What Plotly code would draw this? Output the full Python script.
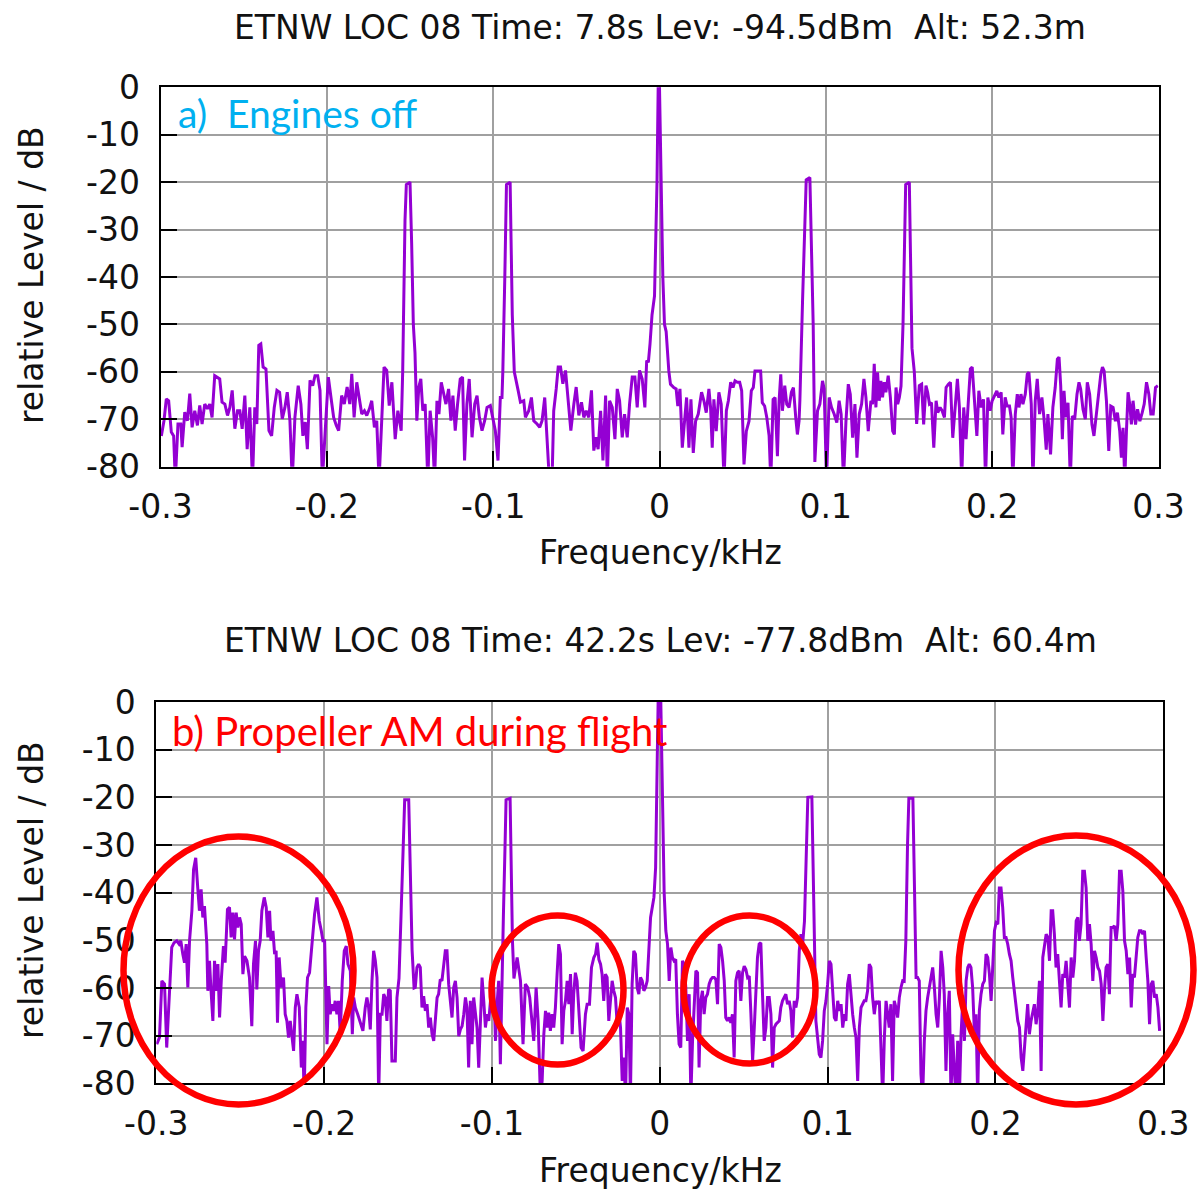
import plotly.graph_objects as go

# ---------------- data ----------------
# Panel a) engines off : frequency in Hz, relative level in dB
top_freq_hz = [
    -299.5, -297.9, -296.5, -295.1, -293.5, -292.1, -291.1, -289.5, -287.8, -287.0,
    -285.4, -283.8, -282.4, -281.0, -279.4, -277.8, -276.4, -275.0, -273.4, -271.8,
    -270.4, -269.0, -267.4, -265.8, -264.4, -263.0, -261.3, -259.7, -258.3, -256.9,
    -255.3, -253.7, -252.3, -250.9, -249.3, -247.9, -246.3, -244.7, -243.3, -242.1,
    -240.9, -239.7, -238.3, -236.6, -234.8, -233.2, -231.6, -230.0, -228.4, -226.8,
    -225.2, -223.8, -222.2, -220.8, -219.2, -217.2, -215.6, -214.4, -213.0, -211.7,
    -210.1, -208.5, -207.1, -205.5, -204.1, -202.7, -201.1, -199.1, -197.5, -195.9,
    -194.3, -192.9, -191.1, -189.5, -187.8, -186.2, -185.0, -183.6, -182.0, -180.4,
    -179.0, -177.4, -176.0, -174.4, -173.0, -171.4, -170.0, -168.6, -167.0, -165.6,
    -164.0, -162.5, -160.9, -158.9, -157.3, -155.3, -154.4, -153.0, -152.2, -150.0,
    -149.0, -148.0, -147.0, -145.9, -144.7, -143.5, -142.3, -140.9, -139.3, -137.9,
    -136.4, -135.2, -133.8, -132.6, -131.2, -129.8, -128.4, -126.8, -125.4, -124.2,
    -122.8, -121.4, -119.8, -118.4, -117.2, -115.8, -114.4, -112.7, -111.1, -109.7,
    -108.3, -106.7, -105.1, -103.7, -101.7, -100.3, -98.7, -97.1, -95.7, -94.7,
    -94.2, -93.0, -92.0, -89.8, -89.0, -88.5, -87.3, -86.6, -85.0, -83.6,
    -81.6, -80.6, -78.6, -77.0, -75.6, -73.6, -72.0, -70.6, -69.0, -67.6,
    -66.2, -64.6, -63.6, -62.1, -60.9, -59.5, -58.1, -56.5, -54.9, -53.3,
    -51.5, -50.1, -48.5, -46.9, -45.5, -44.1, -42.5, -40.9, -39.5, -38.1,
    -36.9, -35.4, -34.0, -32.4, -31.4, -30.0, -28.4, -26.8, -25.4, -24.0,
    -22.4, -21.0, -19.4, -18.0, -16.4, -14.8, -13.4, -12.0, -10.4, -8.8,
    -7.7, -6.7, -5.7, -4.5, -3.0, -1.5, -0.8, 0.0, 1.0, 2.0,
    3.0, 4.0, 5.6, 6.6, 8.6, 10.0, 11.0, 12.3, 13.7, 15.1,
    16.3, 17.7, 18.9, 20.3, 21.7, 23.3, 25.3, 26.7, 28.1, 29.7,
    30.7, 31.7, 32.7, 34.1, 35.7, 37.1, 38.8, 40.2, 41.4, 42.8,
    44.2, 45.4, 46.8, 48.2, 49.4, 50.8, 52.2, 53.8, 55.2, 56.4,
    57.4, 58.8, 60.8, 61.8, 63.2, 64.5, 65.9, 66.9, 68.3, 69.5,
    70.9, 71.9, 72.9, 73.9, 75.3, 76.5, 77.9, 79.3, 80.5, 81.9,
    82.9, 83.9, 84.4, 86.0, 87.2, 88.2, 90.4, 91.4, 92.4, 93.4,
    95.0, 96.4, 98.0, 99.0, 100.4, 102.0, 103.4, 105.0, 106.6, 108.0,
    109.2, 110.6, 112.1, 113.5, 114.7, 116.1, 117.5, 118.7, 120.1, 121.5,
    122.9, 124.1, 125.5, 127.1, 128.1, 129.1, 130.1, 131.1, 132.1, 133.1,
    134.1, 135.1, 136.1, 137.5, 138.8, 140.2, 141.2, 142.2, 143.2, 144.2,
    145.2, 146.4, 147.4, 148.0, 150.2, 151.0, 151.8, 153.2, 154.6, 156.2,
    157.6, 158.8, 160.2, 161.2, 162.3, 163.5, 164.9, 166.3, 167.3, 168.7,
    169.9, 171.3, 172.3, 173.7, 174.9, 176.3, 177.7, 179.1, 180.3, 181.7,
    182.9, 184.3, 185.7, 186.9, 188.0, 189.4, 190.8, 192.0, 193.4, 194.8,
    196.0, 197.4, 198.8, 200.0, 201.4, 202.8, 204.0, 205.4, 206.4, 207.8,
    209.0, 210.4, 211.4, 212.4, 213.9, 215.1, 216.1, 217.3, 218.5, 219.9,
    221.1, 222.1, 223.5, 224.5, 225.9, 227.1, 228.5, 229.9, 231.1, 232.5,
    233.5, 235.1, 236.5, 237.9, 239.2, 240.2, 241.2, 242.2, 243.2, 244.2,
    245.6, 247.0, 248.2, 249.6, 251.0, 252.2, 253.2, 254.6, 256.0, 257.2,
    258.6, 260.0, 261.2, 262.6, 264.0, 265.3, 266.3, 267.3, 268.7, 270.1,
    271.3, 272.7, 274.1, 275.3, 276.7, 277.7, 278.7, 279.7, 280.7, 281.7,
    282.7, 283.7, 284.7, 286.2, 287.4, 288.8, 290.2, 291.4, 292.8, 294.2,
    295.4, 296.8, 298.2, 299.6,
]
top_level_db = [
    -73.5, -70.3, -65.7, -66.1, -72.7, -73.5, -83, -71.0, -71.0, -75.9,
    -68.5, -70.3, -64.6, -71.7, -68.2, -71.3, -67.1, -71.0, -66.8, -67.8,
    -66.8, -69.6, -60.8, -61.1, -61.5, -66.4, -66.8, -69.2, -67.5, -63.9,
    -72.0, -68.2, -68.2, -72.0, -65.0, -76.3, -67.5, -83, -67.5, -71.0,
    -54.4, -54.1, -59.0, -59.4, -72.4, -73.5, -67.5, -63.9, -64.3, -69.9,
    -67.5, -64.3, -70.3, -83, -69.6, -62.9, -66.8, -73.5, -70.6, -76.3,
    -61.8, -62.9, -60.8, -60.8, -63.9, -83, -72.4, -61.1, -65.4, -69.6,
    -71.3, -72.4, -65.0, -66.8, -63.2, -66.8, -60.4, -69.6, -62.2, -65.4,
    -68.9, -68.2, -69.2, -67.8, -66.1, -71.7, -70.3, -83, -69.6, -59.0,
    -59.7, -67.1, -62.2, -74.2, -68.2, -72.4, -60.0, -28.0, -20.5, -20.0,
    -33.0, -50.0, -56.0, -70.3, -63.2, -61.5, -68.2, -66.8, -83, -68.2,
    -73.8, -83, -66.1, -68.9, -62.2, -64.3, -66.8, -63.6, -70.3, -65.0,
    -72.4, -66.8, -61.5, -61.1, -78.7, -66.8, -61.5, -73.8, -66.8, -65.0,
    -69.6, -72.4, -70.3, -67.5, -67.1, -69.6, -72.4, -78.7, -65.4, -65.4,
    -60.0, -40.0, -20.5, -20.0, -35.0, -48.0, -60.0, -61.0, -63.9, -66.4,
    -66.1, -69.6, -68.2, -65.4, -70.3, -71.0, -71.7, -70.3, -65.4, -74.2,
    -83, -83, -68.2, -63.6, -59.0, -59.0, -62.5, -59.7, -66.8, -72.4,
    -66.8, -63.2, -69.2, -66.4, -69.6, -68.2, -69.6, -63.9, -76.6, -73.8,
    -76.3, -68.2, -78.7, -65.0, -83, -66.1, -67.5, -74.2, -63.6, -66.1,
    -73.8, -68.9, -73.8, -66.8, -61.1, -61.1, -67.5, -59.7, -61.5, -67.5,
    -57.6, -58.0, -54.1, -48.0, -44.0, -20.0, 0.0, 0.0, -20.0, -40.0,
    -50.0, -51.5, -59.8, -62.6, -63.3, -63.6, -67.2, -63.6, -76.0, -70.4,
    -65.4, -76.0, -65.8, -77.1, -70.4, -68.9, -64.3, -66.1, -68.6, -63.6,
    -67.5, -76.0, -65.8, -72.5, -64.3, -66.8, -83, -68.2, -66.1, -62.2,
    -63.3, -61.9, -62.2, -62.2, -64.0, -79.5, -72.5, -70.4, -64.0, -63.3,
    -59.8, -59.8, -59.8, -66.5, -67.2, -69.6, -73.5, -83, -65.8, -65.4,
    -77.8, -66.1, -60.5, -68.2, -62.9, -66.8, -67.5, -64.3, -63.3, -69.6,
    -73.2, -70.4, -66.0, -45.0, -30.0, -19.5, -19.0, -35.0, -50.0, -79.0,
    -68.2, -66.8, -61.9, -63.6, -83, -65.4, -67.5, -68.9, -70.7, -66.1,
    -68.9, -83, -70.4, -62.6, -64.7, -73.9, -66.8, -78.1, -68.9, -66.8,
    -61.5, -65.4, -72.5, -66.1, -66.8, -58.3, -67.5, -60.1, -66.1, -61.9,
    -65.4, -62.2, -64.3, -60.8, -65.4, -72.5, -73.2, -63.3, -66.8, -65.4,
    -63.0, -50.0, -30.0, -20.5, -20.0, -40.0, -55.0, -60.0, -71.0, -62.9,
    -62.6, -71.1, -62.9, -64.3, -66.8, -66.5, -76.0, -66.1, -68.6, -67.5,
    -68.2, -69.6, -63.3, -62.6, -62.2, -73.9, -67.5, -61.5, -67.5, -83,
    -67.5, -74.2, -66.1, -59.4, -59.0, -66.8, -73.5, -64.0, -67.5, -65.8,
    -83, -65.4, -68.2, -66.1, -65.1, -64.0, -65.4, -64.3, -73.2, -65.4,
    -67.2, -67.2, -69.6, -83, -68.9, -64.7, -67.5, -64.7, -66.8, -64.7,
    -60.5, -60.1, -66.8, -83, -66.1, -61.5, -68.9, -65.4, -69.6, -76.4,
    -68.9, -77.4, -67.5, -63.3, -57.3, -56.9, -62.9, -74.2, -64.0, -69.6,
    -66.5, -83, -69.3, -70.0, -64.7, -62.2, -63.6, -67.9, -70.0, -62.2,
    -64.7, -71.1, -73.5, -68.9, -65.1, -60.5, -59.0, -59.8, -66.1, -76.7,
    -67.2, -67.5, -70.4, -68.6, -72.5, -78.1, -71.8, -83, -72.8, -64.3,
    -66.8, -71.1, -66.1, -71.1, -67.9, -70.4, -68.6, -66.8, -62.2, -64.7,
    -68.9, -68.9, -63.3, -62.9,
]

# Panel b) propeller AM during flight
bot_freq_hz = [
    -299.7, -298.1, -296.7, -295.1, -293.8, -292.2, -290.8, -289.4, -287.8, -286.4,
    -285.4, -284.2, -283.2, -282.2, -281.2, -280.2, -278.8, -277.8, -276.5, -275.3,
    -274.3, -273.3, -272.3, -271.3, -269.9, -269.3, -268.3, -267.5, -266.3, -265.3,
    -264.3, -263.3, -262.3, -261.3, -260.0, -259.0, -257.6, -256.4, -255.4, -254.4,
    -253.4, -252.4, -251.4, -250.4, -249.4, -248.4, -247.4, -246.0, -244.5, -243.1,
    -242.1, -240.9, -240.1, -239.1, -238.1, -237.1, -235.7, -234.5, -233.5, -232.5,
    -231.7, -230.5, -229.5, -228.6, -227.8, -226.8, -225.6, -224.2, -223.2, -222.2,
    -221.2, -220.2, -219.2, -218.2, -217.2, -216.2, -214.8, -213.6, -212.7, -211.9,
    -210.9, -209.9, -208.7, -207.3, -205.7, -204.3, -202.9, -201.7, -200.7, -199.7,
    -198.3, -197.3, -196.4, -195.4, -194.4, -193.4, -192.4, -191.4, -190.4, -189.2,
    -188.0, -186.8, -185.8, -184.4, -183.2, -182.4, -181.4, -180.0, -178.5, -176.9,
    -175.5, -174.5, -173.5, -172.5, -171.5, -170.5, -169.5, -168.5, -167.5, -166.5,
    -165.5, -164.5, -163.6, -162.6, -161.6, -160.6, -159.6, -158.6, -157.6, -156.6,
    -155.4, -154.2, -152.6, -152.0, -149.6, -148.8, -147.6, -146.4, -145.7, -144.7,
    -143.7, -142.7, -141.7, -140.7, -139.7, -138.7, -137.7, -136.7, -135.7, -134.7,
    -133.7, -132.7, -131.8, -130.8, -129.8, -128.8, -127.8, -126.8, -125.8, -124.8,
    -123.8, -122.8, -121.8, -120.8, -119.8, -118.8, -117.8, -116.8, -115.8, -114.9,
    -113.9, -112.9, -111.9, -110.9, -109.9, -108.9, -107.9, -106.9, -105.9, -104.9,
    -103.9, -102.9, -101.9, -100.9, -99.9, -98.9, -97.9, -96.9, -96.0, -95.0,
    -94.2, -93.2, -92.2, -91.6, -89.2, -88.6, -87.8, -86.9, -85.0, -83.0,
    -81.5, -80.1, -78.7, -77.5, -76.1, -75.1, -73.7, -72.5, -71.1, -70.1,
    -69.1, -68.1, -67.2, -66.2, -65.2, -64.2, -63.2, -62.2, -61.2, -60.2,
    -59.2, -58.2, -57.2, -56.2, -55.2, -54.2, -53.2, -52.2, -51.3, -50.3,
    -49.3, -48.3, -46.9, -45.7, -44.3, -43.3, -41.9, -40.7, -39.3, -38.3,
    -37.3, -36.3, -35.3, -34.4, -33.4, -32.4, -31.4, -30.4, -29.4, -28.4,
    -27.4, -26.4, -25.4, -24.4, -23.4, -22.4, -21.4, -20.4, -19.4, -18.4,
    -17.5, -16.5, -15.5, -14.5, -13.5, -12.5, -11.5, -10.5, -9.5, -8.5,
    -7.5, -6.5, -5.5, -3.5, -2.5, -1.0, 0.6, 1.6, 2.6, 3.6,
    4.6, 5.6, 6.6, 7.5, 8.5, 9.5, 10.5, 11.5, 12.5, 13.5,
    14.5, 15.5, 16.5, 17.5, 18.5, 19.5, 20.5, 21.5, 22.5, 23.4,
    24.4, 25.4, 26.4, 27.4, 28.4, 29.4, 30.4, 31.4, 32.4, 33.4,
    34.4, 35.4, 36.4, 37.4, 38.4, 39.3, 40.3, 41.3, 42.3, 43.3,
    44.3, 45.3, 46.3, 47.3, 48.3, 49.3, 50.3, 51.3, 52.3, 53.3,
    54.3, 55.3, 56.3, 57.2, 58.2, 59.2, 60.2, 61.2, 62.2, 63.2,
    64.2, 65.2, 66.2, 67.2, 68.2, 69.2, 70.2, 71.2, 72.1, 73.1,
    74.1, 75.1, 76.1, 77.1, 78.1, 79.1, 80.1, 81.1, 82.1, 83.1,
    84.1, 85.1, 86.2, 87.2, 88.2, 90.6, 91.4, 92.2, 93.0, 94.0,
    95.0, 96.0, 97.0, 98.0, 99.0, 100.0, 101.0, 102.0, 103.0, 104.0,
    105.0, 106.0, 107.0, 108.0, 109.0, 110.0, 110.9, 111.9, 112.9, 113.9,
    114.9, 115.9, 116.9, 117.9, 118.9, 119.9, 120.9, 121.8, 122.8, 123.8,
    124.8, 125.8, 126.8, 127.8, 128.8, 129.8, 130.8, 131.8, 132.8, 133.8,
    134.8, 135.8, 136.7, 137.7, 138.7, 139.7, 140.7, 141.7, 142.7, 143.7,
    144.7, 145.6, 146.6, 147.6, 148.4, 150.8, 151.4, 152.0, 152.7, 153.6,
    154.6, 155.6, 156.6, 157.6, 158.6, 159.6, 160.6, 161.6, 162.6, 163.6,
    164.6, 165.6, 166.6, 167.6, 168.6, 169.5, 170.5, 171.5, 172.5, 173.5,
    174.5, 175.5, 176.5, 177.5, 178.5, 179.5, 180.5, 181.5, 182.5, 183.5,
    184.4, 185.4, 186.4, 187.4, 188.4, 189.4, 190.4, 191.4, 192.4, 193.4,
    194.4, 195.4, 196.4, 197.4, 198.4, 199.4, 200.4, 201.4, 202.3, 203.3,
    204.3, 205.3, 206.3, 207.3, 208.3, 209.3, 210.3, 211.3, 212.3, 213.3,
    214.3, 215.3, 216.3, 217.3, 218.3, 219.2, 220.2, 221.2, 222.2, 223.2,
    224.2, 225.2, 226.2, 227.2, 228.2, 229.2, 230.2, 231.2, 232.2, 233.2,
    234.1, 235.1, 236.1, 237.1, 238.1, 239.1, 240.1, 241.1, 242.1, 243.1,
    244.1, 245.1, 246.1, 247.1, 248.1, 249.1, 250.0, 251.0, 252.0, 253.0,
    254.0, 255.0, 256.0, 257.0, 258.0, 259.0, 260.0, 261.0, 262.0, 263.0,
    264.0, 264.9, 265.9, 266.9, 267.9, 268.9, 269.9, 270.9, 271.9, 272.9,
    273.9, 274.9, 275.9, 276.9, 277.9, 278.9, 279.9, 280.9, 281.8, 282.8,
    283.8, 284.8, 285.8, 286.8, 287.8, 288.8, 289.8, 290.8, 291.8, 292.8,
    293.8, 294.8, 295.8, 296.8, 297.8,
]
bot_level_db = [
    -71.8, -70.4, -58.5, -59.2, -72.5, -59.9, -51.5, -50.5, -50.1, -50.8,
    -50.1, -52.9, -54.7, -50.8, -59.9, -50.1, -43.8, -35.1, -32.7, -39.0,
    -43.8, -39.3, -45.2, -42.8, -50.8, -60.6, -54.3, -59.9, -66.9, -54.3,
    -60.6, -55.0, -66.2, -58.5, -51.2, -54.7, -43.5, -43.1, -49.4, -44.2,
    -49.8, -44.2, -47.3, -45.2, -46.6, -57.1, -53.3, -54.3, -57.8, -68.0,
    -55.0, -50.1, -60.3, -52.2, -50.1, -43.8, -41.0, -43.1, -49.4, -43.8,
    -50.1, -48.0, -52.9, -52.2, -67.3, -53.6, -59.9, -57.8, -65.5, -66.9,
    -70.4, -66.9, -70.4, -73.2, -64.1, -61.3, -64.1, -76.7, -71.1, -83,
    -64.1, -57.8, -56.8, -51.5, -44.5, -41.0, -45.9, -48.0, -50.1, -50.1,
    -71.8, -59.6, -65.5, -63.4, -64.8, -62.7, -65.5, -62.7, -69.7, -58.5,
    -52.2, -51.2, -55.0, -56.4, -69.7, -62.0, -64.1, -65.5, -67.3, -69.0,
    -64.1, -62.0, -64.1, -68.7, -58.5, -52.2, -54.3, -57.8, -83, -65.5,
    -65.5, -61.3, -62.0, -66.9, -60.3, -60.6, -75.3, -75.3, -75.3, -62.0,
    -58.0, -45.0, -25.0, -20.5, -20.5, -35.0, -52.0, -60.0, -59.9, -55.7,
    -55.0, -55.7, -64.1, -61.7, -64.8, -63.4, -68.3, -66.2, -69.7, -71.1,
    -66.9, -62.0, -61.3, -58.2, -58.5, -55.7, -52.2, -52.2, -59.2, -62.7,
    -66.2, -59.9, -58.5, -62.0, -70.1, -68.7, -68.0, -65.5, -62.0, -64.1,
    -76.7, -62.7, -71.8, -62.0, -64.8, -68.3, -76.7, -65.5, -57.8, -62.7,
    -68.3, -65.5, -66.9, -62.7, -64.1, -59.9, -71.1, -63.1, -58.5, -76.0,
    -58.6, -45.0, -30.0, -20.5, -20.2, -35.0, -50.0, -58.0, -53.6, -58.5,
    -71.8, -59.2, -59.9, -62.0, -67.6, -71.1, -59.9, -66.9, -83, -79.5,
    -69.7, -64.8, -68.3, -65.2, -69.0, -65.5, -68.3, -64.1, -57.1, -50.8,
    -52.9, -71.8, -64.8, -62.7, -58.5, -63.4, -57.1, -69.7, -61.3, -56.8,
    -58.5, -64.1, -72.5, -73.2, -65.5, -63.4, -63.4, -55.7, -53.6, -52.9,
    -50.5, -54.0, -55.0, -57.1, -62.7, -57.1, -57.8, -66.9, -62.0, -58.5,
    -60.6, -62.0, -67.6, -64.8, -68.3, -79.5, -74.6, -83, -64.1, -65.5,
    -83, -59.2, -52.2, -52.9, -59.9, -61.3, -57.8, -58.5, -60.6, -59.9,
    -58.5, -50.1, -45.2, -41.0, -34.8, 0.0, 0.0, -20.0, -40.0, -48.0,
    -50.8, -58.5, -51.5, -53.6, -54.3, -54.0, -65.5, -71.8, -72.5, -54.3,
    -55.0, -59.9, -71.1, -61.3, -83, -71.1, -64.1, -56.4, -56.8, -76.7,
    -62.7, -60.6, -65.5, -62.0, -61.3, -59.2, -58.2, -57.8, -57.8, -58.2,
    -63.4, -50.8, -51.5, -54.3, -58.5, -66.2, -66.9, -66.2, -67.3, -65.5,
    -74.6, -58.5, -56.8, -56.4, -62.7, -56.8, -55.4, -56.1, -57.8, -57.5,
    -65.5, -75.3, -68.3, -62.0, -53.6, -50.8, -50.5, -61.3, -71.1, -68.3,
    -62.0, -62.0, -65.5, -76.7, -68.3, -67.6, -67.3, -66.9, -64.1, -62.7,
    -62.0, -61.3, -63.4, -62.7, -64.8, -70.4, -62.7, -64.1, -62.0, -52.2,
    -48.7, -50.8, -46.0, -30.0, -20.0, -19.9, -35.0, -50.0, -66.9, -70.4,
    -73.9, -74.6, -71.1, -64.8, -62.7, -59.2, -54.3, -55.0, -59.9, -66.2,
    -66.9, -62.7, -64.8, -63.4, -68.3, -65.5, -66.9, -59.2, -57.1, -62.0,
    -65.5, -68.3, -70.4, -79.5, -68.3, -64.1, -63.4, -62.7, -62.7, -60.6,
    -55.0, -55.7, -62.0, -65.5, -62.7, -63.4, -62.7, -72.5, -83, -70.4,
    -62.7, -65.5, -68.3, -63.4, -79.5, -62.7, -64.1, -66.2, -62.0, -59.9,
    -58.5, -58.6, -50.0, -30.0, -20.2, -20.2, -35.0, -50.0, -57.8, -57.8,
    -58.5, -78.1, -83, -71.1, -64.8, -62.0, -59.9, -57.1, -55.7, -59.9,
    -65.5, -68.3, -62.0, -52.2, -55.7, -61.3, -77.4, -65.5, -60.6, -83,
    -69.7, -77.4, -83, -71.1, -83, -69.7, -62.7, -71.1, -58.5, -55.7,
    -55.0, -55.7, -59.9, -69.0, -65.5, -83, -64.8, -61.3, -59.2, -58.5,
    -52.9, -53.6, -57.1, -62.7, -55.7, -48.0, -46.3, -46.6, -39.0, -39.0,
    -43.1, -49.4, -49.4, -50.8, -52.9, -54.3, -57.8, -60.6, -63.4, -66.9,
    -68.3, -74.6, -77.4, -71.1, -67.6, -63.4, -69.7, -66.9, -64.8, -63.4,
    -67.6, -64.8, -58.5, -77.4, -53.6, -51.5, -48.7, -49.4, -54.3, -43.8,
    -43.8, -48.7, -55.7, -52.9, -58.5, -64.1, -57.1, -57.8, -54.3, -59.9,
    -64.1, -53.6, -57.8, -54.3, -45.9, -45.2, -50.1, -46.6, -35.5, -35.5,
    -39.0, -50.1, -46.6, -50.8, -58.5, -52.2, -53.6, -55.7, -56.4, -59.2,
    -66.9, -60.6, -55.7, -55.0, -61.3, -47.3, -47.3, -47.0, -50.1, -46.6,
    -35.5, -35.5, -39.7, -50.1, -52.2, -57.1, -53.6, -64.1, -57.1, -57.8,
    -54.3, -49.4, -48.0, -48.0, -48.7, -48.0, -53.6, -58.5, -67.6, -59.2,
    -58.5, -62.0, -61.3, -64.1, -69.0,
]

x_tick_vals = [-0.3, -0.2, -0.1, 0.0, 0.1, 0.2, 0.3]
x_tick_text = ["-0.3", "-0.2", "-0.1", "0", "0.1", "0.2", "0.3"]
y_tick_vals = [0, -10, -20, -30, -40, -50, -60, -70, -80]
y_tick_text = ["0", "-10", "-20", "-30", "-40", "-50", "-60", "-70", "-80"]

panel_titles = [
    "ETNW LOC 08 Time: 7.8s Lev: -94.5dBm\u00a0 Alt: 52.3m",
    "ETNW LOC 08 Time: 42.2s Lev: -77.8dBm\u00a0 Alt: 60.4m",
]
panel_labels = ["a)\u00a0 Engines off", "b) Propeller AM during flight"]
x_title = "Frequency/kHz"
y_title = "relative Level / dB"

assert len(top_freq_hz) == len(top_level_db)
assert len(bot_freq_hz) == len(bot_level_db)

# ---------------- layout helpers ----------------
W, H = 1203, 1189


def px(x):
    return x / W


def py(y):
    return 1 - y / H


FONT = "DejaVu Sans"
FS = 33
TXT = "#111111"
LINE_COLOR = "#9400D3"

fig = go.Figure()
fig.add_trace(go.Scatter(
    x=[f / 1000 for f in top_freq_hz], y=top_level_db, mode="lines",
    line=dict(color=LINE_COLOR, width=3), xaxis="x", yaxis="y",
    showlegend=False, hoverinfo="skip"))
fig.add_trace(go.Scatter(
    x=[f / 1000 for f in bot_freq_hz], y=bot_level_db, mode="lines",
    line=dict(color=LINE_COLOR, width=3), xaxis="x2", yaxis="y2",
    showlegend=False, hoverinfo="skip"))


def xaxis_cfg(domain, anchor):
    return dict(domain=domain, anchor=anchor, range=[-0.3, 0.3],
                tickmode="array", tickvals=x_tick_vals, ticktext=x_tick_text,
                showgrid=True, gridcolor="#a0a0a0", gridwidth=1.6,
                zeroline=False, showline=True, linecolor="black",
                linewidth=2, mirror=True, ticks="inside", ticklen=16,
                tickwidth=2, tickcolor="black", automargin=False,
                ticklabelstandoff=10,
                tickfont=dict(family=FONT, size=FS, color=TXT))


def yaxis_cfg(domain, anchor):
    return dict(domain=domain, anchor=anchor, range=[-80, 0],
                tickmode="array", tickvals=y_tick_vals, ticktext=y_tick_text,
                showgrid=True, gridcolor="#a0a0a0", gridwidth=1.6,
                zeroline=False, showline=True, linecolor="black",
                linewidth=2, mirror=True, ticks="inside", ticklen=16,
                tickwidth=2, tickcolor="black", automargin=False,
                ticklabelstandoff=12,
                tickfont=dict(family=FONT, size=FS, color=TXT))


top_box = (160.5, 1158.5, 87.3, 466.7)
bot_box = (156.3, 1163.3, 702.0, 1083.3)

fig.update_layout(
    width=W, height=H, template="none",
    margin=dict(l=0, r=0, t=0, b=0),
    paper_bgcolor="white", plot_bgcolor="white",
    xaxis=xaxis_cfg([px(top_box[0]), px(top_box[1])], "y"),
    yaxis=yaxis_cfg([py(top_box[3]), py(top_box[2])], "x"),
    xaxis2=xaxis_cfg([px(bot_box[0]), px(bot_box[1])], "y2"),
    yaxis2=yaxis_cfg([py(bot_box[3]), py(bot_box[2])], "x2"),
)

ann = []
# panel titles
for t, yc in zip(panel_titles, [27, 640]):
    ann.append(dict(text=t, x=px(660), y=py(yc), xref="paper", yref="paper",
                    xanchor="center", yanchor="middle", showarrow=False,
                    font=dict(family=FONT, size=FS, color=TXT)))
# x axis titles
for yc in [553, 1170]:
    ann.append(dict(text=x_title, x=px(660), y=py(yc), xref="paper", yref="paper",
                    xanchor="center", yanchor="middle", showarrow=False,
                    font=dict(family=FONT, size=FS, color=TXT)))
# y axis titles
for yc in [275, 890]:
    ann.append(dict(text=y_title, x=px(31), y=py(yc), xref="paper", yref="paper",
                    xanchor="center", yanchor="middle", showarrow=False,
                    textangle=-90, font=dict(family=FONT, size=FS, color=TXT)))
# panel labels
ann.append(dict(text=panel_labels[0], x=px(176), y=py(113), xref="paper", yref="paper",
                xanchor="left", yanchor="middle", showarrow=False,
                font=dict(family="Lato", size=39, color="#00B0F0")))
ann.append(dict(text=panel_labels[1], x=px(170), y=py(731), xref="paper", yref="paper",
                xanchor="left", yanchor="middle", showarrow=False,
                font=dict(family="Lato", size=40, color="#FF0000")))
fig.update_layout(annotations=ann)

# red ellipses highlighting the propeller modulation sidebands
ellipses = [
    (123.5, 353.5, 836.5, 1104.5),
    (491.5, 623.5, 915.5, 1064.5),
    (683.5, 815.5, 915.5, 1063.5),
    (958.5, 1193.5, 835.5, 1104.5),
]
shapes = []
for x0, x1, y0, y1 in ellipses:
    shapes.append(dict(type="circle", xref="paper", yref="paper",
                       x0=px(x0), x1=px(x1), y0=py(y1), y1=py(y0),
                       line=dict(color="#FF0000", width=6.5), layer="above"))
fig.update_layout(shapes=shapes)

fig.write_html("out.html")
